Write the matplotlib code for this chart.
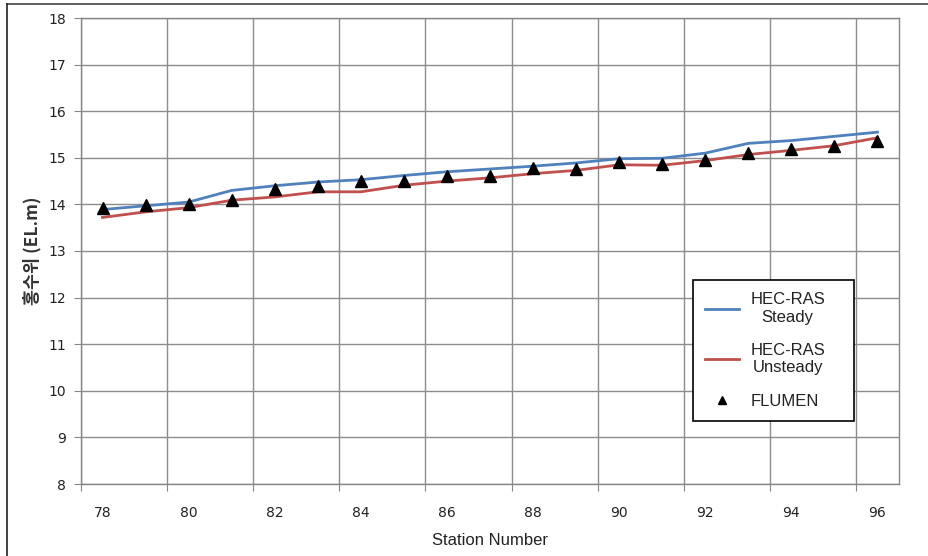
import numpy as np
import matplotlib
matplotlib.use("Agg")
import matplotlib.pyplot as plt
from matplotlib.lines import Line2D

stations = list(range(78, 97))
steady = [13.89, 13.97, 14.05, 14.30, 14.40, 14.48, 14.53, 14.62, 14.70,
          14.76, 14.82, 14.89, 14.98, 14.99, 15.10, 15.31, 15.37, 15.46, 15.55]
unsteady = [13.72, 13.84, 13.93, 14.09, 14.16, 14.27, 14.27, 14.41, 14.50,
            14.57, 14.66, 14.73, 14.85, 14.84, 14.94, 15.07, 15.16, 15.26, 15.43]
flumen = [13.93, 13.98, 14.00, 14.09, 14.32, 14.39, 14.50, 14.50, 14.60,
          14.60, 14.78, 14.77, 14.90, 14.87, 14.96, 15.11, 15.19, 15.26, 15.37]
y_ticks = list(range(8, 19))
series_labels = ["HEC-RAS\nSteady", "HEC-RAS\nUnsteady", "FLUMEN"]

W, H = 929, 556
fig = plt.figure(figsize=(W / 100, H / 100), dpi=100)
ax = fig.add_axes([81 / W, 1 - 484 / H, (899 - 81) / W, (484 - 18) / H])

x = np.arange(len(stations))
ax.plot(x, steady, color="#4F81BD", lw=2, label=series_labels[0], zorder=3)
ax.plot(x, unsteady, color="#C0504D", lw=2, label=series_labels[1], zorder=3)
ax.plot(x, flumen, ls="none", marker="^", color="black", ms=8.5,
        label=series_labels[2], zorder=4)

ax.set_xlim(-0.5, len(stations) - 0.5)
ax.set_ylim(8, 18)
ax.set_yticks(y_ticks)
ax.set_yticklabels([str(v) for v in y_ticks], fontsize=10, family="DejaVu Sans",
                   color="#222222")
ax.set_xticks(np.arange(-0.5, len(stations), 2))
ax.set_xticklabels([])
ax.set_xticks(x[::2], minor=True)
ax.set_xticklabels([str(s) for s in stations[::2]], minor=True, fontsize=10,
                   family="DejaVu Sans", color="#222222")
ax.tick_params(axis="x", which="major", length=5, color="#868686", direction="out")
ax.tick_params(axis="x", which="minor", length=0, pad=16)
ax.tick_params(axis="y", length=5, color="#868686", pad=6)
ax.grid(True, which="major", color="#8c8c8c", lw=1)
ax.set_axisbelow(True)
for s in ax.spines.values():
    s.set_color("#868686")
    s.set_linewidth(1)

ax.set_xlabel("Station Number", fontsize=12, family="Liberation Sans",
              color="#222222", labelpad=9)
ax.set_ylabel("홍수위 (EL.m)", fontsize=12.5, family=["Noto Sans CJK KR", "DejaVu Sans"],
              fontweight="bold", color="#333333", labelpad=5)

leg = ax.legend(loc="center", bbox_to_anchor=(0.748, 0.131, 0.197, 0.311),
                mode="expand", fancybox=False, edgecolor="black", framealpha=1,
                prop={"family": "Liberation Sans", "size": 12},
                handlelength=2.0, markerscale=0.7, labelspacing=1.1,
                borderpad=0.75, handletextpad=0.7, borderaxespad=0)
leg.get_frame().set_linewidth(1.2)
for t in leg.get_texts():
    t.set_multialignment("center")
    t.set_color("#222222")

fig.add_artist(Line2D([7 / W, 1], [1 - 4 / H, 1 - 4 / H], color="#444444", lw=1.2,
                      transform=fig.transFigure))
fig.add_artist(Line2D([7 / W, 7 / W], [0, 1 - 4 / H], color="#222222", lw=1.2,
                      transform=fig.transFigure))

fig.savefig("out.png", dpi=100)
